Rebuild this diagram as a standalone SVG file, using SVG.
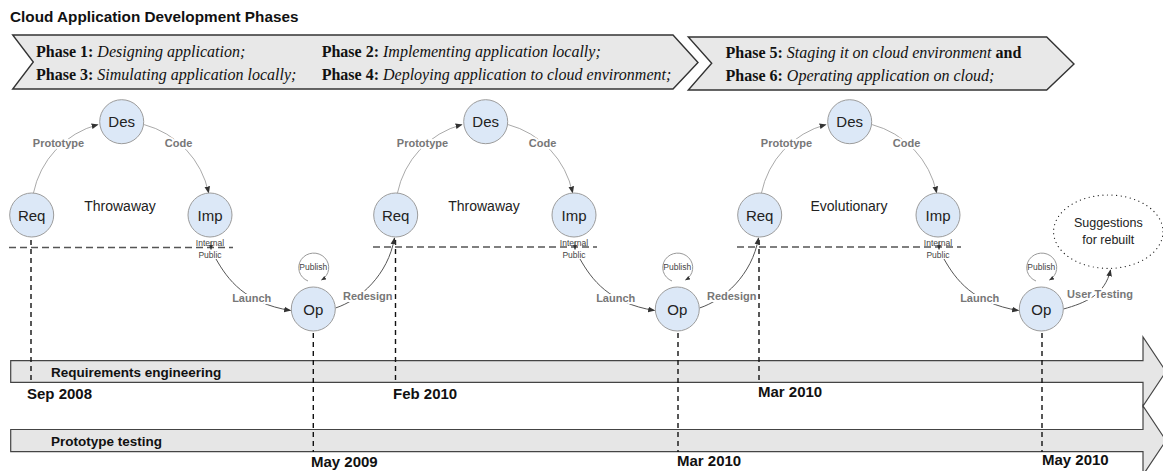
<svg xmlns="http://www.w3.org/2000/svg" width="1163" height="471" viewBox="0 0 1163 471">
  <style>
    .title { font-family: "Liberation Sans", Arial, sans-serif; font-size: 15.3px; font-weight: bold; fill: #111; }
    .banner { fill: #e8e8e8; stroke: #333; stroke-width: 1.4; }
    .ph { font-family: "Liberation Serif", "Times New Roman", serif; font-size: 16px; fill: #111; }
    .ph tspan.b { font-weight: bold; font-style: normal; }
    .ph tspan.i { font-style: italic; }
    .node circle { fill: #dce8f7; stroke: #9c9c9c; stroke-width: 1; }
    .node text.name { font-family: "Liberation Sans", Arial, sans-serif; font-size: 15px; fill: #222; text-anchor: middle; }
    .node text.tiny { font-family: "Liberation Sans", Arial, sans-serif; font-size: 8.5px; fill: #444; text-anchor: middle; }
    .kind { font-family: "Liberation Sans", Arial, sans-serif; font-size: 14px; fill: #222; text-anchor: middle; }
    .arc { fill: none; stroke: #aaa; stroke-width: 1; }
    .flow { fill: none; stroke: #555; stroke-width: 1; }
    .lbl { font-family: "Liberation Sans", Arial, sans-serif; font-size: 11px; font-weight: bold; fill: #777; text-anchor: middle;
           stroke: #fff; stroke-width: 4; paint-order: stroke; stroke-linejoin: round; }
    .hdash { stroke: #555; stroke-width: 1.3; stroke-dasharray: 7 4; fill: none; }
    .vdash { stroke: #111; stroke-width: 1.4; stroke-dasharray: 5 4; fill: none; }
    .bar { fill: #e6e6e6; stroke: #444; stroke-width: 1.2; }
    .barlbl { font-family: "Liberation Sans", Arial, sans-serif; font-size: 13.5px; font-weight: bold; fill: #111; }
    .date { font-family: "Liberation Sans", Arial, sans-serif; font-size: 15px; font-weight: bold; fill: #111; }
    .loop { fill: none; stroke: #999; stroke-width: 1; }
    .sugg { fill: none; stroke: #222; stroke-width: 1.2; stroke-dasharray: 0.1 4.5; stroke-linecap: round; }
    .sugtext { font-family: "Liberation Sans", Arial, sans-serif; font-size: 12.5px; fill: #222; text-anchor: middle; }
  </style>
  <defs>
    <marker id="ah" viewBox="0 0 10 10" refX="9" refY="5" markerWidth="7" markerHeight="7" markerUnits="userSpaceOnUse" orient="auto">
      <path d="M0,1 L10,5 L0,9 Z" fill="#333"/>
    </marker>
    <marker id="ahs" viewBox="0 0 10 10" refX="9" refY="5" markerWidth="5" markerHeight="5" markerUnits="userSpaceOnUse" orient="auto">
      <path d="M0,1 L10,5 L0,9 Z" fill="#333"/>
    </marker>
  </defs>

  <text class="title" x="10" y="22">Cloud Application Development Phases</text>

  <!-- phase banners -->
  <g id="banner-phases-1-4">
    <path class="banner" d="M12.7,35 L673,35 L698,62.5 L673,89 L12.7,89 L33.3,62 Z"/>
    <text class="ph" x="36" y="57"><tspan class="b">Phase 1:</tspan> <tspan class="i">Designing application;</tspan></text>
    <text class="ph" x="36" y="80"><tspan class="b">Phase 3:</tspan> <tspan class="i">Simulating application locally;</tspan></text>
    <text class="ph" x="321.7" y="57"><tspan class="b">Phase 2:</tspan> <tspan class="i">Implementing application locally;</tspan></text>
    <text class="ph" x="321.7" y="80"><tspan class="b">Phase 4:</tspan> <tspan class="i">Deploying application to cloud environment;</tspan></text>
  </g>
  <g id="banner-phases-5-6">
    <path class="banner" d="M688.3,37 L1046.7,37 L1074,64 L1046.7,90 L688.3,90 L711.7,63.3 Z"/>
    <text class="ph" x="725.5" y="58"><tspan class="b">Phase 5:</tspan> <tspan class="i">Staging it on cloud environment</tspan> <tspan class="b">and</tspan></text>
    <text class="ph" x="725.5" y="81"><tspan class="b">Phase 6:</tspan> <tspan class="i">Operating application on cloud;</tspan></text>
  </g>

  <!-- timeline bars -->
  <g id="bar-requirements">
    <path class="bar" d="M10.7,360.7 L1143,360.7 L1143,337 L1166,371.5 L1143,406 L1143,382.3 L10.7,382.3 Z"/>
    <text class="barlbl" x="51" y="376.5">Requirements engineering</text>
  </g>
  <g id="bar-prototype">
    <path class="bar" d="M10.7,429.5 L1143,429.5 L1143,406 L1166,440.5 L1143,475 L1143,451.7 L10.7,451.7 Z"/>
    <text class="barlbl" x="51" y="445.5">Prototype testing</text>
  </g>

  <!-- internal / public boundaries -->
  <g id="boundaries">
    <path class="hdash" d="M9,247.5 H233"/>
    <path class="hdash" d="M373,247 H597"/>
    <path class="hdash" d="M737,247 H961"/>
  </g>

  <!-- milestone markers -->
  <g id="milestones">
    <path class="vdash" d="M31,240 V382"/>
    <path class="vdash" d="M395.5,240 V382"/>
    <path class="vdash" d="M759,240 V382"/>
    <path class="vdash" d="M313.3,333 V452"/>
    <path class="vdash" d="M678,333 V452"/>
    <path class="vdash" d="M1042,333 V452"/>
    <text class="date" x="27" y="399">Sep 2008</text>
    <text class="date" x="393" y="399">Feb 2010</text>
    <text class="date" x="758" y="397">Mar 2010</text>
    <text class="date" x="311" y="467">May 2009</text>
    <text class="date" x="677" y="466">Mar 2010</text>
    <text class="date" x="1042" y="465">May 2010</text>
  </g>

  <!-- connectors -->
  <g id="connectors">
    <g id="cycle-1-links">
      <path class="arc" d="M33.4,193.2 A89.4,89.4 0 0 1 97.9,124.6" marker-end="url(#ah)"/>
      <path class="arc" d="M144.1,124.6 A89.4,89.4 0 0 1 208.6,192.8" marker-end="url(#ah)"/>
      <path class="flow" d="M216,259 C228,280 245,303 290.5,310.5" marker-end="url(#ah)"/>
      <path class="loop" d="M308,281 A15,14.5 0 1 1 321.5,280" marker-end="url(#ahs)"/>
      <path class="flow" d="M335.5,308 C360,300 388,275 394.5,238" marker-end="url(#ah)"/>
      <line x1="211" y1="242" x2="211" y2="249.5" stroke="#555" stroke-width="0.8" marker-end="url(#ahs)"/>
      <text class="lbl" x="58.5" y="147">Prototype</text>
      <text class="lbl" x="178.5" y="147">Code</text>
      <text class="lbl" x="251.7" y="301.5">Launch</text>
      <text class="lbl" x="367.7" y="300">Redesign</text>
    </g>
    <g id="cycle-2-links" transform="translate(364,0)">
      <path class="arc" d="M33.4,193.2 A89.4,89.4 0 0 1 97.9,124.6" marker-end="url(#ah)"/>
      <path class="arc" d="M144.1,124.6 A89.4,89.4 0 0 1 208.6,192.8" marker-end="url(#ah)"/>
      <path class="flow" d="M216,259 C228,280 245,303 290.5,310.5" marker-end="url(#ah)"/>
      <path class="loop" d="M308,281 A15,14.5 0 1 1 321.5,280" marker-end="url(#ahs)"/>
      <path class="flow" d="M335.5,308 C360,300 388,275 394.5,238" marker-end="url(#ah)"/>
      <line x1="211" y1="242" x2="211" y2="249.5" stroke="#555" stroke-width="0.8" marker-end="url(#ahs)"/>
      <text class="lbl" x="58.5" y="147">Prototype</text>
      <text class="lbl" x="178.5" y="147">Code</text>
      <text class="lbl" x="251.7" y="301.5">Launch</text>
      <text class="lbl" x="367.7" y="300">Redesign</text>
    </g>
    <g id="cycle-3-links" transform="translate(728,0)">
      <path class="arc" d="M33.4,193.2 A89.4,89.4 0 0 1 97.9,124.6" marker-end="url(#ah)"/>
      <path class="arc" d="M144.1,124.6 A89.4,89.4 0 0 1 208.6,192.8" marker-end="url(#ah)"/>
      <path class="flow" d="M216,259 C228,280 245,303 290.5,310.5" marker-end="url(#ah)"/>
      <path class="loop" d="M308,281 A15,14.5 0 1 1 321.5,280" marker-end="url(#ahs)"/>
      <path class="flow" d="M335.5,309 C357,303 377,295 382.5,270" marker-end="url(#ah)"/>
      <line x1="211" y1="242" x2="211" y2="249.5" stroke="#555" stroke-width="0.8" marker-end="url(#ahs)"/>
      <text class="lbl" x="58.5" y="147">Prototype</text>
      <text class="lbl" x="178.5" y="147">Code</text>
      <text class="lbl" x="251.7" y="301.5">Launch</text>
      <text class="lbl" x="372" y="298">User Testing</text>
    </g>
  </g>

  <!-- cycle 1 -->
  <text class="kind" x="120" y="211">Throwaway</text>
  <g id="req1" class="node"><circle cx="31.7" cy="215" r="22"/><text class="name" x="31.7" y="220.5">Req</text></g>
  <g id="des1" class="node"><circle cx="121.7" cy="121.7" r="22"/><text class="name" x="121.7" y="127.2">Des</text></g>
  <g id="imp1" class="node"><circle cx="210" cy="215" r="22"/><text class="name" x="210" y="220.5">Imp</text>
    <text class="tiny" x="210" y="246">Internal</text><text class="tiny" x="210" y="257.5">Public</text></g>
  <g id="op1" class="node"><circle cx="313.3" cy="309" r="22"/><text class="name" x="313.3" y="314.5">Op</text>
    <text class="tiny" x="313.3" y="269.5">Publish</text></g>

  <!-- cycle 2 -->
  <text class="kind" x="484" y="211">Throwaway</text>
  <g id="req2" class="node"><circle cx="395.7" cy="215" r="22"/><text class="name" x="395.7" y="220.5">Req</text></g>
  <g id="des2" class="node"><circle cx="485.7" cy="121.7" r="22"/><text class="name" x="485.7" y="127.2">Des</text></g>
  <g id="imp2" class="node"><circle cx="574" cy="215" r="22"/><text class="name" x="574" y="220.5">Imp</text>
    <text class="tiny" x="574" y="246">Internal</text><text class="tiny" x="574" y="257.5">Public</text></g>
  <g id="op2" class="node"><circle cx="677.3" cy="309" r="22"/><text class="name" x="677.3" y="314.5">Op</text>
    <text class="tiny" x="677.3" y="269.5">Publish</text></g>

  <!-- cycle 3 -->
  <text class="kind" x="849" y="211">Evolutionary</text>
  <g id="req3" class="node"><circle cx="759.7" cy="215" r="22"/><text class="name" x="759.7" y="220.5">Req</text></g>
  <g id="des3" class="node"><circle cx="849.7" cy="121.7" r="22"/><text class="name" x="849.7" y="127.2">Des</text></g>
  <g id="imp3" class="node"><circle cx="938" cy="215" r="22"/><text class="name" x="938" y="220.5">Imp</text>
    <text class="tiny" x="938" y="246">Internal</text><text class="tiny" x="938" y="257.5">Public</text></g>
  <g id="op3" class="node"><circle cx="1041.3" cy="309" r="22"/><text class="name" x="1041.3" y="314.5">Op</text>
    <text class="tiny" x="1041.3" y="269.5">Publish</text></g>

  <g id="suggestions">
    <ellipse class="sugg" cx="1108.3" cy="231.7" rx="54.7" ry="36.7"/>
    <text class="sugtext" x="1108.3" y="227">Suggestions</text>
    <text class="sugtext" x="1108.3" y="243.5">for rebuilt</text>
  </g>
</svg>
